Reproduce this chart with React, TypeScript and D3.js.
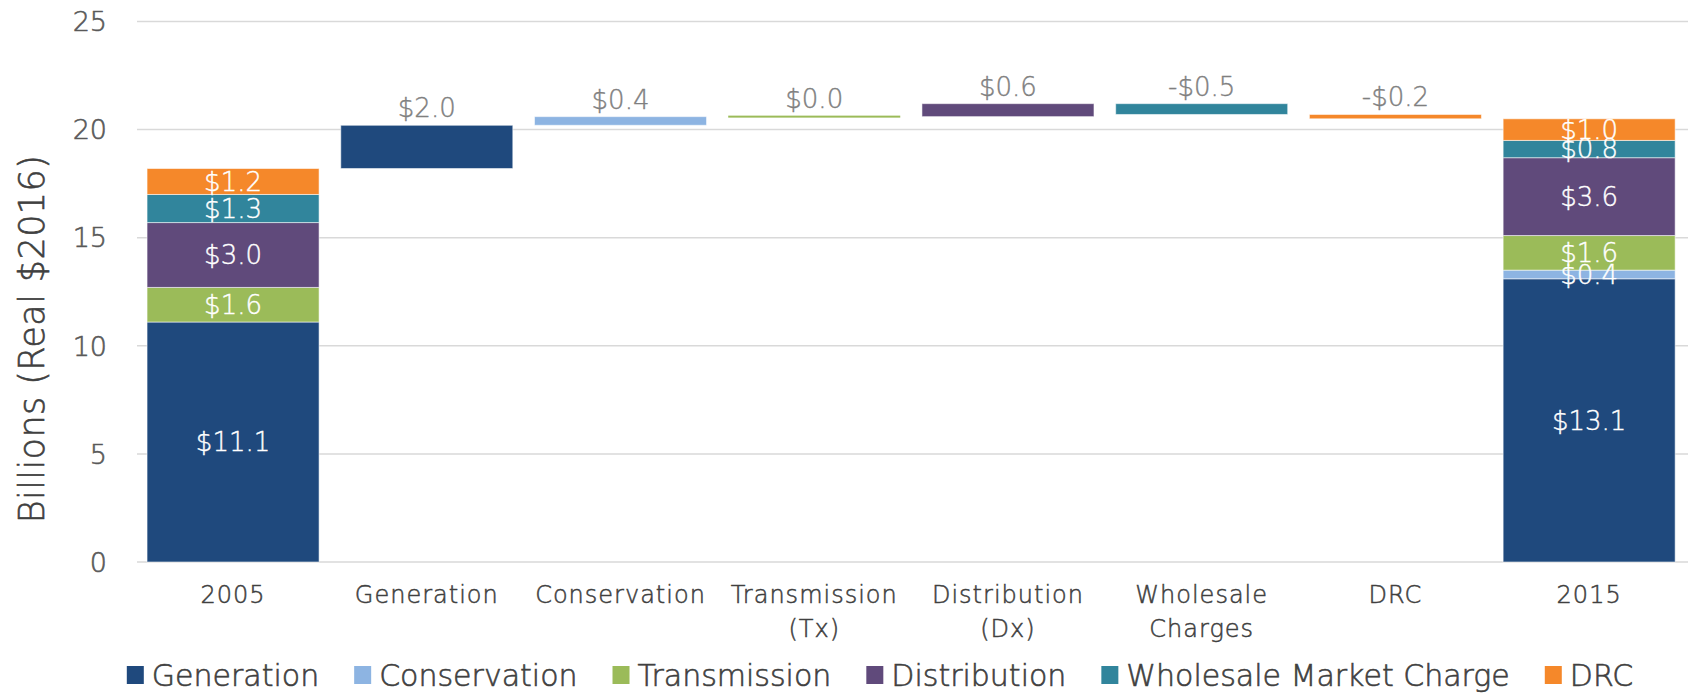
import React, { useEffect, useRef } from "react";
import * as d3 from "d3";

const categories = ["2005", "Generation", "Conservation", "Transmission\n(Tx)", "Distribution\n(Dx)", "Wholesale\nCharges", "DRC", "2015"];
const seriesNames = ["Generation", "Conservation", "Transmission", "Distribution", "Wholesale Market Charge", "DRC"];
const seriesColors = ["#1F497D", "#8DB4E2", "#9BBB59", "#604A7B", "#31859C", "#F5882A"];
const values2005 = [11.1, 0, 1.6, 3.0, 1.3, 1.2];
const changes = [2.0, 0.4, 0.0, 0.6, -0.5, -0.2];
const values2015 = [13.1, 0.4, 1.6, 3.6, 0.8, 1.0];
const yTicks = [0, 5, 10, 15, 20, 25];
const yTitle = "Billions (Real $2016)";

const W = 1688;
const H = 695;
const FONT = "'DejaVu Sans', sans-serif";

const fmt = (v: number) => (v < 0 ? "-$" : "$") + Math.abs(v).toFixed(1);

export default function App() {
  const ref = useRef<SVGSVGElement | null>(null);

  useEffect(() => {
    const svg = d3.select(ref.current);
    svg.selectAll("*").remove();

    const x = d3.scaleBand<string>().domain(categories).range([136.2, 1686]).paddingInner(0.112).paddingOuter(0.056);
    const y = d3.scaleLinear().domain([0, 25]).range([562, 21.5]);

    const txt = (sel: any, size: number, color: string, sw = 0.5) =>
      sel.attr("font-family", FONT).attr("font-size", size).attr("font-weight", 300)
        .attr("fill", color).attr("stroke", color).attr("stroke-width", sw);

    // gridlines
    svg.append("g").selectAll("line").data(yTicks).join("line")
      .attr("x1", 137).attr("x2", W)
      .attr("y1", (d) => y(d)).attr("y2", (d) => y(d))
      .attr("stroke", "#d9d9d9").attr("stroke-width", 1.5);

    // y tick labels
    txt(svg.append("g").selectAll("text").data(yTicks).join("text")
      .attr("x", 107).attr("y", (d) => y(d))
      .attr("dy", "0.36em")
      .attr("text-anchor", "end"), 27, "#595959", 0.6)
      .text((d: number) => String(d));

    // y title
    txt(svg.append("text")
      .attr("transform", `translate(32, 339) rotate(-90)`)
      .attr("text-anchor", "middle").attr("dominant-baseline", "central")
      .attr("letter-spacing", 0.4), 35, "#404040", 0.6)
      .text(yTitle);

    const bars = svg.append("g");
    const labels = svg.append("g");

    const drawStack = (cat: string, vals: number[]) => {
      let acc = 0;
      vals.forEach((v, i) => {
        const y0 = acc;
        const y1 = acc + v;
        acc = y1;
        if (v <= 0) return;
        bars.append("rect")
          .attr("x", x(cat)!).attr("width", x.bandwidth())
          .attr("y", y(y1)).attr("height", y(y0) - y(y1))
          .attr("fill", seriesColors[i])
          .attr("stroke", "#ffffff").attr("stroke-opacity", 0.55).attr("stroke-width", 1);
        txt(labels.append("text")
          .attr("x", x(cat)! + x.bandwidth() / 2)
          .attr("y", (y(y0) + y(y1)) / 2)
          .attr("dy", "0.36em")
          .attr("text-anchor", "middle"), 26, "#ffffff", 0.4)
          .text(fmt(v));
      });
      return acc;
    };

    let running = drawStack(categories[0], values2005);

    changes.forEach((c, i) => {
      const cat = categories[i + 1];
      const lo = Math.min(running, running + c);
      const hi = Math.max(running, running + c);
      running += c;
      const h = Math.max(2, y(lo) - y(hi));
      const top = y(hi) - (h - (y(lo) - y(hi))) / 2;
      bars.append("rect")
        .attr("x", x(cat)!).attr("width", x.bandwidth())
        .attr("y", top).attr("height", h)
        .attr("fill", seriesColors[i])
        .attr("stroke", "#ffffff").attr("stroke-opacity", 0.55).attr("stroke-width", c === 0 ? 0 : 1);
      txt(labels.append("text")
        .attr("x", x(cat)! + x.bandwidth() / 2)
        .attr("y", top - 8)
        .attr("text-anchor", "middle"), 26, "#7f7f7f", 0.4)
        .text(fmt(c));
    });

    drawStack(categories[7], values2015);

    // x labels
    const xl = svg.append("g");
    categories.forEach((cat) => {
      const lines = cat.split("\n");
      const t = txt(xl.append("text")
        .attr("x", x(cat)! + x.bandwidth() / 2)
        .attr("y", 603)
        .attr("text-anchor", "middle")
        .attr("letter-spacing", 1.0), 24, "#404040", 0.5);
      lines.forEach((ln, j) => {
        t.append("tspan").attr("x", x(cat)! + x.bandwidth() / 2).attr("dy", j === 0 ? 0 : 34).text(ln);
      });
    });

    // legend
    const lg = svg.append("g");
    const items = seriesNames.map((name, i) => {
      const g = lg.append("g");
      g.append("rect").attr("x", 0).attr("y", 666).attr("width", 17).attr("height", 18).attr("fill", seriesColors[i]);
      const t = txt(g.append("text")
        .attr("x", 25).attr("y", 686), 30, "#404040", 0.6)
        .text(name);
      const w = (t.node() as SVGTextElement).getComputedTextLength();
      return { g, w: 25 + w };
    });
    const gap = 35;
    const total = d3.sum(items, (d) => d.w) + gap * (items.length - 1);
    let cx = 880 - total / 2;
    items.forEach((it) => {
      it.g.attr("transform", `translate(${cx},0)`);
      cx += it.w + gap;
    });
  }, []);

  return (
    <svg ref={ref} width={W} height={H} style={{ position: "absolute", left: 0, top: 0, background: "#ffffff" }} />
  );
}
